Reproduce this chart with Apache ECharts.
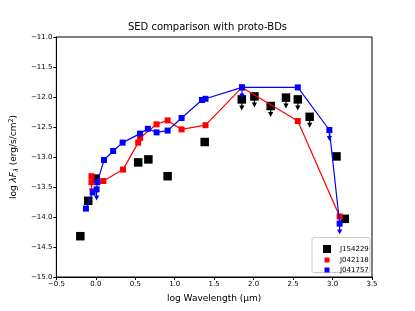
<!DOCTYPE html>
<html><head><meta charset="utf-8">
<script src="https://cdn.jsdelivr.net/npm/echarts@6/dist/echarts.min.js"></script>
<style>html,body{margin:0;padding:0;background:#fff}#c{width:415px;height:311px}</style>
</head><body><div id="c"></div>
<script>
// J154229 (black): [logWavelength, logFlux], upper-limit flags
const j154229_x = [-0.196, -0.096, 0.0, 0.537, 0.666, 0.91, 1.38, 1.85, 2.01, 2.216, 2.41, 2.56, 2.71, 3.05, 3.155];
const j154229_y = [-14.32, -13.73, -13.36, -13.09, -13.04, -13.32, -12.75, -12.04, -11.99, -12.15, -12.01, -12.04, -12.33, -12.99, -14.03];
const j154229_ul = [0,0,0,0,0,0,0,1,1,1,1,1,1,0,0];

const j042118_x = [-0.055, -0.055, 0.095, 0.345, 0.537, 0.562, 0.77, 0.91, 1.087, 1.39, 1.853, 2.56, 3.09];
const j042118_y = [-13.32, -13.42, -13.40, -13.21, -12.76, -12.68, -12.455, -12.39, -12.54, -12.47, -11.84, -12.40, -13.99];
const j042118_ul = [0,1,0,0,0,0,0,0,0,0,0,0,0];

const j041757_x = [-0.125, -0.04, 0.01, 0.02, 0.104, 0.22, 0.34, 0.56, 0.66, 0.77, 0.91, 1.087, 1.345, 1.39, 1.853, 2.56, 2.96, 3.09];
const j041757_y = [-13.86, -13.59, -13.54, -13.42, -13.05, -12.9, -12.76, -12.61, -12.53, -12.59, -12.56, -12.35, -12.05, -12.03, -11.84, -11.84, -12.55, -14.11];
const j041757_ul = [0,0,1,0,0,0,0,0,0,0,0,0,0,0,1,0,1,1];

const xTicks = [-0.5, 0.0, 0.5, 1.0, 1.5, 2.0, 2.5, 3.0, 3.5];
const yTicks = [-15.0, -14.5, -14.0, -13.5, -13.0, -12.5, -12.0, -11.5, -11.0];

const FONT = 'DejaVu Sans';
const pts = (xs, ys) => xs.map((x, i) => [x, ys[i]]);
const ulPts = (xs, ys, fl) => xs.map((x, i) => [x, ys[i]]).filter((_, i) => fl[i]);

function arrowSeries(name, data, color) {
  return {
    type: 'custom', name: name + '_ul', data: data, z: 3,
    renderItem: function (params, api) {
      const p = api.coord([api.value(0), api.value(1)]);
      const x = p[0], y0 = p[1], tip = y0 + 11;
      return { type: 'group', children: [
        { type: 'line', shape: { x1: x, y1: y0, x2: x, y2: tip - 3 }, style: { stroke: color, lineWidth: 1.2 } },
        { type: 'polygon', shape: { points: [[x - 2.6, tip - 5], [x + 2.6, tip - 5], [x, tip]] }, style: { fill: color } }
      ]};
    }
  };
}

const chart = echarts.init(document.getElementById('c'), null, { renderer: 'canvas' });
const fmt = v => (v < 0 ? '\u2212' : '') + Math.abs(v).toFixed(1);
chart.setOption({
  animation: false,
  title: { text: 'SED comparison with proto-BDs', left: 'center', top: 17,
    textStyle: { fontFamily: FONT, fontSize: 10, fontWeight: 'normal', color: '#000' } },
  grid: { left: 52, top: 37, width: 320, height: 240, show: true, borderColor: '#000', borderWidth: 1, backgroundColor: 'transparent' },
  xAxis: {
    type: 'value', min: xTicks[0], max: xTicks[xTicks.length - 1], interval: 0.5,
    name: 'log Wavelength (\u03bcm)', nameLocation: 'middle', nameGap: 17,
    nameTextStyle: { fontFamily: FONT, fontSize: 9, color: '#000' },
    axisLine: { onZero: false, lineStyle: { color: '#000', width: 1 } },
    axisTick: { show: true, inside: false, length: 3, lineStyle: { color: '#000' } },
    axisLabel: { fontFamily: FONT, fontSize: 7, color: '#000', margin: 4, formatter: fmt },
    splitLine: { show: false }
  },
  yAxis: {
    type: 'value', min: yTicks[0], max: yTicks[yTicks.length - 1], interval: 0.5,
    name: '{a|log }{i|\u03bbF}{s|\u03bb}{a| (erg/s/cm}{p|2}{a|)}', nameLocation: 'middle', nameGap: 34, nameRotate: 90,
    nameTextStyle: { fontFamily: FONT, fontSize: 9, color: '#000',
      rich: {
        a: { fontFamily: FONT, fontSize: 9, color: '#000' },
        i: { fontFamily: FONT, fontSize: 9, fontStyle: 'italic', color: '#000' },
        s: { fontFamily: FONT, fontSize: 6.5, fontStyle: 'italic', color: '#000', verticalAlign: 'bottom', padding: [5, 0, 0, 0] },
        p: { fontFamily: FONT, fontSize: 6.5, color: '#000', verticalAlign: 'top', padding: [0, 0, 5, 0] }
      } },
    axisLine: { show: true, onZero: false, lineStyle: { color: '#000', width: 1 } },
    axisTick: { show: true, inside: false, length: 3, lineStyle: { color: '#000' } },
    axisLabel: { fontFamily: FONT, fontSize: 7, color: '#000', margin: 4, formatter: fmt },
    splitLine: { show: false }
  },
  graphic: [{ type: 'rect', shape: { x: 312, y: 237.5, width: 58, height: 35, r: 2 },
    style: { fill: 'rgba(255,255,255,0.8)', stroke: '#ccc', lineWidth: 1 }, z: 50 }],
  legend: [
    { data: ['J154229'], left: 318, top: 240, icon: 'rect', itemWidth: 8, itemHeight: 8, z: 60,
      textStyle: { fontFamily: FONT, fontSize: 7, color: '#000', padding: [0, 0, 0, 4] } },
    { data: ['J042118'], left: 319.5, top: 251.5, icon: 'rect', itemWidth: 5, itemHeight: 5, z: 60,
      textStyle: { fontFamily: FONT, fontSize: 7, color: '#000', padding: [0, 0, 0, 5.5] } },
    { data: ['J041757'], left: 319.5, top: 261.5, icon: 'rect', itemWidth: 5, itemHeight: 5, z: 60,
      textStyle: { fontFamily: FONT, fontSize: 7, color: '#000', padding: [0, 0, 0, 5.5] } }
  ],
  series: [
    { type: 'scatter', name: 'J154229', data: pts(j154229_x, j154229_y), symbol: 'rect', symbolSize: 8.5,
      itemStyle: { color: '#000', opacity: 1 }, z: 2 },
    arrowSeries('J154229', ulPts(j154229_x, j154229_y, j154229_ul), '#000'),
    { type: 'line', name: 'J042118', data: pts(j042118_x, j042118_y), symbol: 'rect', symbolSize: 6,
      itemStyle: { color: '#ff0000', opacity: 1 }, lineStyle: { color: '#ff0000', width: 1.2 }, z: 4 },
    arrowSeries('J042118', ulPts(j042118_x, j042118_y, j042118_ul), '#ff0000'),
    { type: 'line', name: 'J041757', data: pts(j041757_x, j041757_y), symbol: 'rect', symbolSize: 6,
      itemStyle: { color: '#0000ff', opacity: 1 }, lineStyle: { color: '#0000ff', width: 1.2 }, z: 5 },
    arrowSeries('J041757', ulPts(j041757_x, j041757_y, j041757_ul), '#0000ff')
  ]
});
</script></body></html>
